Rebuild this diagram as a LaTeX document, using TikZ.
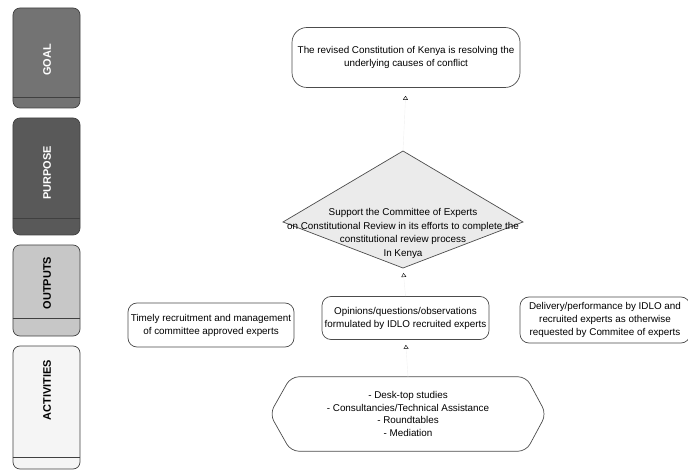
\documentclass[tikz,border=0pt]{standalone}
\usepackage{fontspec}
\setmainfont{Liberation Sans}
\usetikzlibrary{arrows.meta,calc}
\begin{document}
\begin{tikzpicture}[x=1bp,y=-1bp,
  bar/.style={draw=black!75,line width=0.7bp,rounded corners=7bp,inner sep=0pt,minimum width=67bp},
  divider/.style={draw=black!75,line width=0.6bp},
  barlabel/.style={rotate=90,font=\fontsize{11}{13}\selectfont\bfseries,inner sep=0pt},
  shapeline/.style={draw=black!70,line width=0.7bp},
  box/.style={shapeline,rounded corners=9bp,align=center,inner sep=0pt,font=\fontsize{9.9}{13}\selectfont},
  txt/.style={align=center,inner sep=0pt,font=\fontsize{9.9}{13}\selectfont},
  link/.style={draw=black!6,line width=0.4bp,-{Triangle[open,length=4bp,width=5bp,color=black]}},
]
\useasboundingbox (0,0) rectangle (688,470);

% left bars
\node[bar,fill=black!55,minimum height=100bp] (goalbar) at (46.5,58) {};
\draw[divider] ($(goalbar.south west)+(0,-11)$) -- ($(goalbar.south east)+(0,-11)$);
\node[barlabel,text=white] (goallbl) at (47,60) {GOAL};

\node[bar,fill=black!65,minimum height=117bp] (purbar) at (46.5,176.5) {};
\draw[divider] ($(purbar.south west)+(0,-17)$) -- ($(purbar.south east)+(0,-17)$);
\node[barlabel,text=white] (purlbl) at (47,173) {PURPOSE};

\node[bar,fill=black!22,minimum height=91bp] (outbar) at (46.5,290.5) {};
\draw[divider] ($(outbar.south west)+(0,-18)$) -- ($(outbar.south east)+(0,-18)$);
\node[barlabel] (outlbl) at (47,283) {OUTPUTS};

\node[bar,fill=black!4,minimum height=123bp] (actbar) at (46.5,407.5) {};
\draw[divider] ($(actbar.south west)+(0,-12)$) -- ($(actbar.south east)+(0,-12)$);
\node[barlabel] (actlbl) at (47,390) {ACTIVITIES};

% goal
\node[box,fill=white,rounded corners=15bp,minimum width=228bp,minimum height=60bp] (goal) at (406,57.5)
  {The revised Constitution of Kenya is resolving the\\underlying causes of conflict};

% purpose diamond
\coordinate (ptop) at (403,151);
\coordinate (pright) at (523,222);
\coordinate (pbot) at (403,268);
\coordinate (pleft) at (283,222);
\draw[shapeline,fill=black!8] (ptop) -- (pright) -- (pbot) -- (pleft) -- cycle;
\node[txt,font=\fontsize{9.9}{13.6}\selectfont] (purpose) at (403,233.5)
  {Support the Committee of Experts\\on Constitutional Review in its efforts to complete the\\constitutional review process\\In Kenya};

% outputs
\node[box,fill=white,minimum width=166bp,minimum height=44bp] (out1) at (211,325)
  {Timely recruitment and management\\of committee approved experts};
\node[box,fill=white,minimum width=167bp,minimum height=43bp] (out2) at (405.5,318)
  {Opinions/questions/observations\\formulated by IDLO recruited experts};
\node[box,fill=white,minimum width=170bp,minimum height=46bp] (out3) at (605,320)
  {Delivery/performance by IDLO and\\recruited experts as otherwise\\requested by Commitee of experts};

% activities
\node[txt,font=\fontsize{9.9}{12.4}\selectfont,minimum width=276bp,minimum height=74bp] (act) at (408,414)
  {- Desk-top studies\\- Consultancies/Technical Assistance\\- Roundtables\\- Mediation};
\draw[shapeline,rounded corners=8bp] ($(act.north west)+(21,0)$) -- ($(act.north east)+(-20,0)$) -- (act.east)
  -- ($(act.south east)+(-20,0)$) -- ($(act.south west)+(21,0)$) -- (act.west) -- cycle;

% connectors
\draw[link,shorten >=8bp] (ptop) -- (goal.south);
\draw[link,shorten >=5bp] (out2.north) -- (pbot);
\draw[link,shorten >=5bp] (act.north) -- (out2.south);
\end{tikzpicture}
\end{document}
